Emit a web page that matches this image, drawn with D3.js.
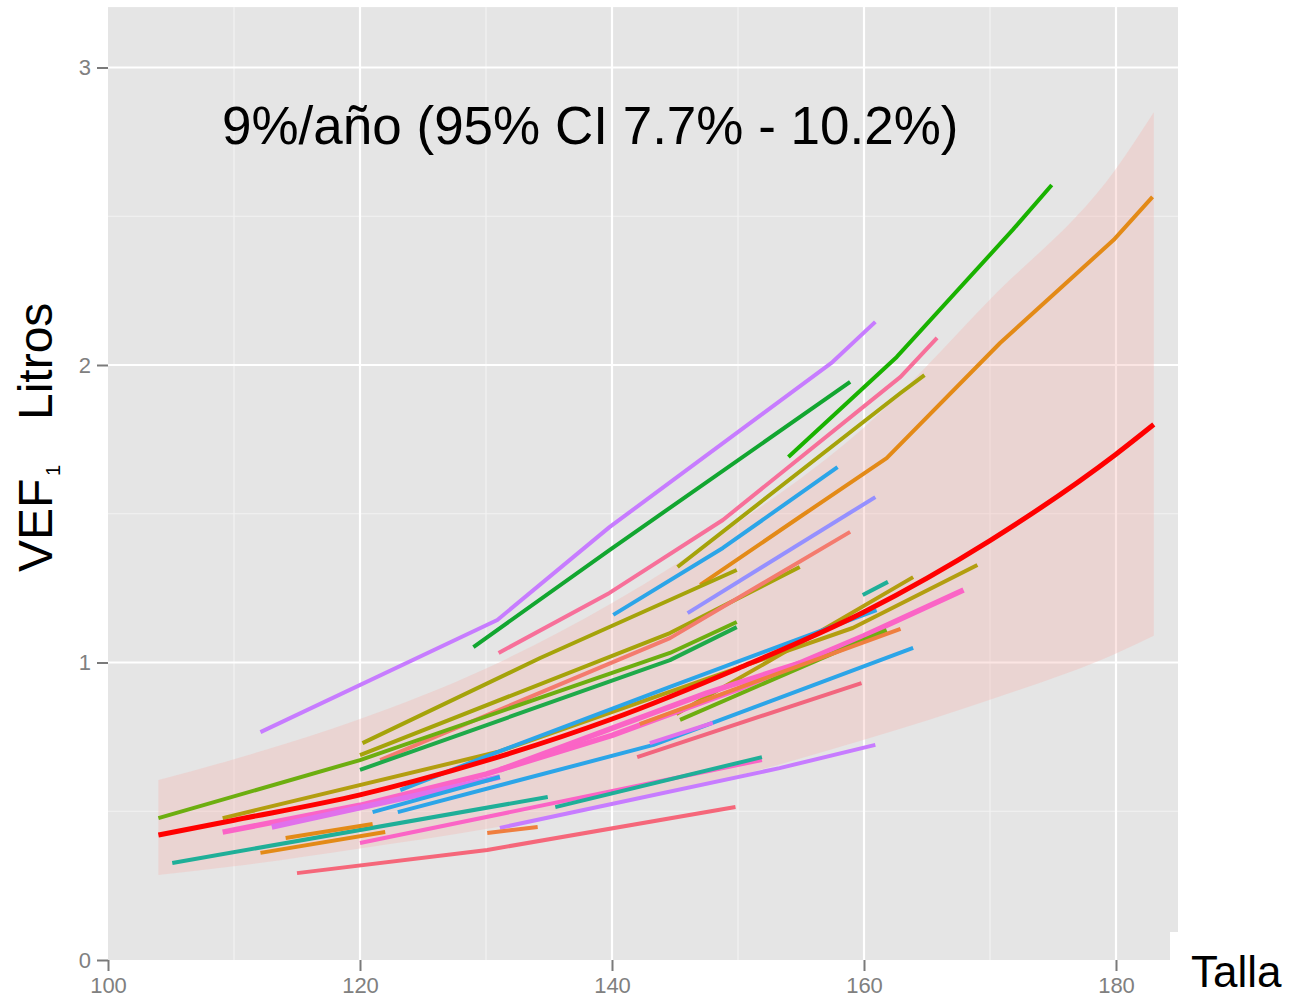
<!DOCTYPE html>
<html>
<head>
<meta charset="utf-8">
<script src="https://cdn.jsdelivr.net/npm/d3@7"></script>
<style>
  html, body { margin: 0; padding: 0; background: #ffffff; }
  svg { display: block; }
</style>
</head>
<body>
<svg id="chart" width="1301" height="998"></svg>
<script>
// ---------------- DATA ----------------
const xTicks = [100, 120, 140, 160, 180];
const xMinorTicks = [110, 130, 150, 170];
const yTicks = [0, 1, 2, 3];
const yMinorTicks = [0.5, 1.5, 2.5];
const annotation = "9%/año (95% CI 7.7% - 10.2%)";
const xTitle = "Talla";

// fitted curve and its confidence band
const fitHeight = [104, 110, 120, 130, 140, 150, 160, 170, 180, 183];
const fitVEF    = [0.42, 0.47, 0.555, 0.67, 0.81, 0.98, 1.17, 1.41, 1.70, 1.80];
const ciLower   = [0.286, 0.315, 0.375, 0.44, 0.525, 0.62, 0.74, 0.875, 1.03, 1.09];
const ciUpper   = [0.605, 0.675, 0.81, 0.98, 1.20, 1.47, 1.79, 2.22, 2.66, 2.85];

// individual children: height (cm) and FEV1 (L)
const childHeights = [
  [112.1, 130.9, 139.8, 157.5, 160.9],
  [129.0, 139.8, 158.9],
  [154.0, 162.6, 171.8, 174.9],
  [147.0, 154.9, 161.8, 170.8, 179.8, 182.9],
  [131.0, 139.8, 148.8, 162.9, 165.8],
  [145.2, 162.9, 164.8],
  [140.1, 148.8, 157.9],
  [146.0, 160.9],
  [120.2, 134.3, 149.9],
  [120.0, 144.6, 154.9],
  [121.6, 144.6, 158.9],
  [104.0, 120.0, 144.6, 149.9],
  [120.0, 144.6, 149.9],
  [159.9, 161.9],
  [145.1, 153.3, 163.9],
  [109.1, 130.9, 159.1, 169.0],
  [109.1, 120.0, 130.0, 140.0, 150.0, 160.0, 167.9],
  [113.0, 131.1],
  [131.1, 147.5, 154.9],
  [123.2, 130.9, 144.6, 161.0],
  [121.0, 131.1],
  [123.0, 143.3, 163.9],
  [143.0, 148.0],
  [145.4, 161.8],
  [142.2, 162.9],
  [142.0, 159.8],
  [131.1, 153.3, 160.9],
  [120.0, 151.9],
  [135.5, 151.9],
  [105.1, 134.9],
  [115.0, 130.1, 149.8],
  [114.1, 121.0],
  [112.1, 122.0],
  [130.1, 134.1]
];
const childVEF = [
  [0.766, 1.143, 1.455, 2.010, 2.145],
  [1.052, 1.378, 1.943],
  [1.691, 2.027, 2.454, 2.605],
  [1.261, 1.489, 1.687, 2.074, 2.420, 2.565],
  [1.032, 1.234, 1.479, 1.960, 2.091],
  [1.321, 1.906, 1.966],
  [1.160, 1.385, 1.657],
  [1.166, 1.556],
  [0.729, 1.015, 1.311],
  [0.689, 1.099, 1.321],
  [0.672, 1.082, 1.439],
  [0.477, 0.672, 1.032, 1.136],
  [0.639, 1.008, 1.119],
  [1.227, 1.271],
  [0.827, 1.025, 1.287],
  [0.477, 0.699, 1.116, 1.328],
  [0.430, 0.520, 0.625, 0.755, 0.910, 1.090, 1.244],
  [0.447, 0.615],
  [0.639, 0.897, 0.998],
  [0.571, 0.699, 0.918, 1.176],
  [0.497, 0.615],
  [0.497, 0.723, 1.049],
  [0.729, 0.797],
  [0.807, 1.109],
  [0.793, 1.113],
  [0.682, 0.931],
  [0.444, 0.645, 0.723],
  [0.393, 0.672],
  [0.514, 0.682],
  [0.326, 0.548],
  [0.292, 0.370, 0.514],
  [0.410, 0.457],
  [0.360, 0.430],
  [0.427, 0.447]
];

// ---------------- STYLE ----------------
const lineColors = [
  "#C77CFF", "#12A630", "#19B200", "#E38A17", "#F7709A", "#A5A30A",
  "#2CA5E8", "#9590FF", "#A5A30A", "#A5A30A", "#F47B6E", "#6DAE10",
  "#1FAA4A", "#1FAF98", "#B39E10", "#B39E10", "#FB64C6", "#E070EC",
  "#FB64C6", "#2CA5E8", "#2CA5E8", "#2CA5E8", "#E070EC", "#6DAE10",
  "#EF7F3F", "#F2667E", "#C77CFF", "#FB64C6", "#1FAF98", "#1FAF98",
  "#F5677A", "#E38A17", "#E38A17", "#EF7F3F"
];
const thickIdx = new Set([16, 17, 18]);

// ---------------- DRAW ----------------
const svg = d3.select("#chart");
const x = d3.scaleLinear().domain([100, 180]).range([108, 1116]);
const y = d3.scaleLinear().domain([0, 3]).range([960, 67.5]);
const panelX = [100, 184.92];
const panelY = [0, 3.203];

svg.append("rect")
  .attr("x", x(panelX[0])).attr("y", y(panelY[1]))
  .attr("width", x(panelX[1]) - x(panelX[0]))
  .attr("height", y(panelY[0]) - y(panelY[1]))
  .attr("fill", "#E5E5E5");

const grid = svg.append("g");
grid.selectAll(".vminor").data(xMinorTicks).join("line")
  .attr("x1", d => x(d)).attr("x2", d => x(d))
  .attr("y1", y(panelY[0])).attr("y2", y(panelY[1]))
  .attr("stroke", "#F2F2F2").attr("stroke-width", 1.2);
grid.selectAll(".hminor").data(yMinorTicks).join("line")
  .attr("y1", d => y(d)).attr("y2", d => y(d))
  .attr("x1", x(panelX[0])).attr("x2", x(panelX[1]))
  .attr("stroke", "#F2F2F2").attr("stroke-width", 1.2);
grid.selectAll(".vmajor").data(xTicks.filter(d => d > 100)).join("line")
  .attr("x1", d => x(d)).attr("x2", d => x(d))
  .attr("y1", y(panelY[0])).attr("y2", y(panelY[1]))
  .attr("stroke", "#FFFFFF").attr("stroke-width", 2.2);
grid.selectAll(".hmajor").data(yTicks.filter(d => d > 0)).join("line")
  .attr("y1", d => y(d)).attr("y2", d => y(d))
  .attr("x1", x(panelX[0])).attr("x2", x(panelX[1]))
  .attr("stroke", "#FFFFFF").attr("stroke-width", 2.2);

// confidence ribbon
const band = fitHeight.map((h, i) => ({h, lo: ciLower[i], hi: ciUpper[i]}));
svg.append("path")
  .datum(band)
  .attr("d", d3.area().x(d => x(d.h)).y0(d => y(d.lo)).y1(d => y(d.hi)).curve(d3.curveMonotoneX))
  .attr("fill", "#F4B6B2").attr("fill-opacity", 0.36);

// individual lines
const lineGen = d3.line().x(d => x(d[0])).y(d => y(d[1])).curve(d3.curveLinear);
const gLines = svg.append("g");
childHeights.forEach((hs, i) => {
  const pts = hs.map((h, j) => [h, childVEF[i][j]]);
  gLines.append("path")
    .attr("d", lineGen(pts))
    .attr("fill", "none")
    .attr("stroke", lineColors[i])
    .attr("stroke-width", thickIdx.has(i) ? 5.5 : 4)
    .attr("stroke-linejoin", "round")
    .attr("stroke-linecap", "butt");
});

// fitted line
const fitGen = d3.line().x(d => x(d[0])).y(d => y(d[1])).curve(d3.curveMonotoneX);
svg.append("path")
  .attr("d", fitGen(fitHeight.map((h, i) => [h, fitVEF[i]])))
  .attr("fill", "none").attr("stroke", "#FF0000").attr("stroke-width", 5);

// white notch near bottom right
svg.append("rect").attr("x", 1170).attr("y", 932).attr("width", 12).attr("height", 30).attr("fill", "#fff");

// axes ticks and labels
const xAxis = d3.axisBottom(x).tickValues(xTicks).tickSize(11).tickPadding(6).tickFormat(d3.format("d"));
const gx = svg.append("g").attr("transform", "translate(0,960)").call(xAxis);
gx.select(".domain").remove();
gx.selectAll("line").attr("stroke", "#7A7A7A").attr("stroke-width", 2);
gx.selectAll("text").attr("fill", "#808080").attr("font-family", "Liberation Sans, Arial, sans-serif").attr("font-size", 22);

const yAxis = d3.axisLeft(y).tickValues(yTicks).tickSize(11).tickPadding(6).tickFormat(d3.format("d"));
const gy = svg.append("g").attr("transform", "translate(108,0)").call(yAxis);
gy.select(".domain").remove();
gy.selectAll("line").attr("stroke", "#7A7A7A").attr("stroke-width", 2);
gy.selectAll("text").attr("fill", "#808080").attr("font-family", "Liberation Sans, Arial, sans-serif").attr("font-size", 22);

// annotation
svg.append("text")
  .attr("x", 222).attr("y", 144)
  .attr("font-family", "Liberation Sans, Arial, sans-serif")
  .attr("font-size", 53)
  .attr("fill", "#000")
  .text(annotation);

// x title
svg.append("text")
  .attr("x", 1191).attr("y", 987)
  .attr("font-family", "Liberation Sans, Arial, sans-serif")
  .attr("font-size", 44)
  .attr("fill", "#000")
  .text(xTitle);

// y title (rotated)
const yt = svg.append("g").attr("transform", "translate(52,572) rotate(-90)");
yt.append("text").attr("x", 0).attr("y", 0)
  .attr("font-family", "Liberation Sans, Arial, sans-serif").attr("font-size", 48).attr("fill", "#000")
  .text("VEF");
yt.append("text").attr("x", 96).attr("y", 8)
  .attr("font-family", "Liberation Sans, Arial, sans-serif").attr("font-size", 20).attr("fill", "#000")
  .text("1");
yt.append("text").attr("x", 152).attr("y", 0)
  .attr("font-family", "Liberation Sans, Arial, sans-serif").attr("font-size", 48).attr("fill", "#000")
  .text("Litros");
</script>
</body>
</html>
